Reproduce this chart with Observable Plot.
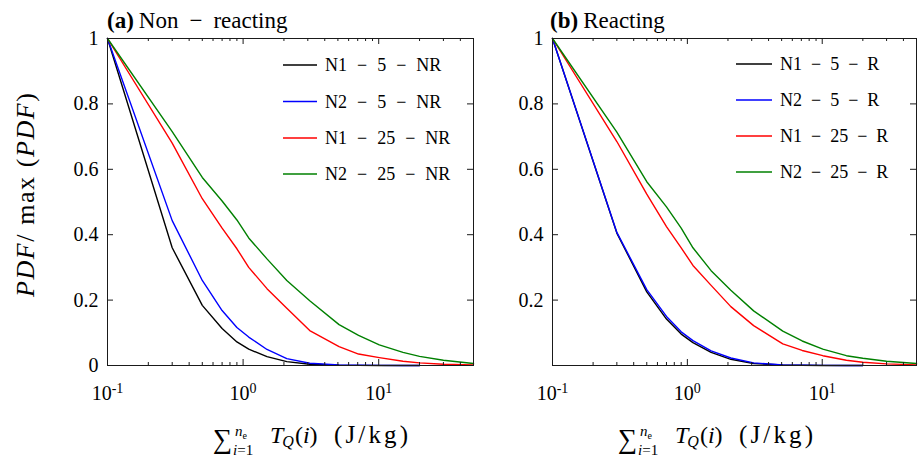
<!DOCTYPE html>
<html><head><meta charset="utf-8">
<script src="https://cdn.jsdelivr.net/npm/d3@7"></script>
<script src="https://cdn.jsdelivr.net/npm/@observablehq/plot@0.6"></script>
<style>
body{margin:0;background:#fff}
#wrap{position:relative;width:918px;height:459px;overflow:hidden;background:#fff}
#wrap svg{position:absolute;top:0}
#wrap svg, #wrap svg text, #wrap svg tspan{font-family:"Liberation Serif", serif !important}
</style></head><body><div id="wrap"></div>
<script>
// ---- data ----
const xShort = [0.1,0.3,0.5,0.7,0.9,1.1,1.5,2.1,3.1,5.1,7.1,10.1,15.1,20];
const xLong  = [0.1,0.3,0.5,0.7,0.9,1.1,1.5,2.1,3.1,5.1,7.1,10.1,15.1,20,30,50];

const namesA = ["N1 − 5 − NR","N2 − 5 − NR","N1 − 25 − NR","N2 − 25 − NR"];
const N1_5_NR  = [1,0.36,0.184,0.113,0.072,0.05,0.027,0.012,0.004,0.001,0.0005,0.0002,0.0001,0];
const N2_5_NR  = [1,0.443,0.26,0.168,0.116,0.087,0.049,0.021,0.007,0.002,0.001,0.0004,0.0002,0.0001];
const N1_25_NR = [1,0.68,0.51,0.42,0.357,0.30,0.235,0.175,0.107,0.058,0.035,0.024,0.013,0.008,0.004,0.002];
const N2_25_NR = [1,0.715,0.575,0.503,0.445,0.39,0.326,0.26,0.198,0.125,0.092,0.063,0.04,0.028,0.016,0.006];

const namesB = ["N1 − 5 − R","N2 − 5 − R","N1 − 25 − R","N2 − 25 − R"];
const N1_5_R  = [1,0.405,0.225,0.142,0.096,0.07,0.04,0.019,0.006,0.0015,0.0006,0.0002,0.0001,0];
const N2_5_R  = [1,0.407,0.232,0.15,0.103,0.076,0.045,0.023,0.008,0.002,0.001,0.0004,0.0002,0.0001];
const N1_25_R = [1,0.685,0.524,0.425,0.36,0.306,0.245,0.18,0.122,0.066,0.046,0.03,0.016,0.01,0.005,0.002];
const N2_25_R = [1,0.714,0.562,0.485,0.42,0.36,0.29,0.23,0.167,0.105,0.075,0.05,0.03,0.022,0.013,0.006];

const colors = ["#000000","#0000ff","#ff0000","#008000"];
const xMajor = [0.1,1,10];
const xMinor = [0.2,0.3,0.4,0.5,0.6,0.7,0.8,0.9,2,3,4,5,6,7,8,9,20,30,40,50];
const yTickMarks = [0,0.2,0.4,0.6,0.8,1];
const yLabelsA = [0,0.2,0.4,0.6,0.8,1];
const yLabelsB = [0.2,0.4,0.6,0.8,1];

const SERIF = "Liberation Serif";
const H = 459, MT = 38, MB = 94;

function makePanel(opt){
  const {width, ml, mr, xsets, ysets, yLabels} = opt;
  const ph = H - MT - MB, pw = width - ml - mr;
  const lines = ysets.map((ys,i) => {
    const xs = xsets[i];
    const rows = ys.map((y,j) => ({x: xs[j], y}));
    return Plot.line(rows, {x:"x", y:"y", stroke: colors[i], strokeWidth: 1.4});
  });
  const svgEl = Plot.plot({
    width, height: H, marginLeft: ml, marginRight: mr, marginTop: MT, marginBottom: MB,
    style: {fontFamily: SERIF, fontSize: "20px", background: "transparent", color: "#000", overflow: "visible"},
    x: {type: "log", domain: [0.1, 50], ticks: xMajor, tickFormat: d => "10^" + Math.round(Math.log10(d)),
        tickSize: 0, tickPadding: 20, label: null},
    y: {domain: [0, 1], ticks: yLabels, tickFormat: d => String(+d.toFixed(1)), tickSize: 0, tickPadding: 9, label: null},
    marks: [
      ...lines,
      Plot.frame({stroke: "#1a1a1a", strokeWidth: 1}),
      Plot.tickX(xMajor, {x: d => d, insetTop: ph - 6, stroke: "#1a1a1a"}),
      Plot.tickX(xMajor, {x: d => d, insetBottom: ph - 6, stroke: "#1a1a1a"}),
      Plot.tickX(xMinor, {x: d => d, insetTop: ph - 3, stroke: "#1a1a1a"}),
      Plot.tickX(xMinor, {x: d => d, insetBottom: ph - 3, stroke: "#1a1a1a"}),
      Plot.tickY(yTickMarks, {y: d => d, insetRight: pw - 6, stroke: "#1a1a1a"}),
      Plot.tickY(yTickMarks, {y: d => d, insetLeft: pw - 6, stroke: "#1a1a1a"})
    ]
  });
  const svg = d3.select(svgEl);
  svg.attr("font-family", SERIF);
  // superscript tick labels
  svg.selectAll("text").each(function(){
    const t = this.textContent;
    if (t.startsWith("10^")) {
      const e = t.slice(3);
      const s = d3.select(this);
      s.text("");
      s.append("tspan").text("10");
      s.append("tspan").attr("dy","-0.5em").attr("font-size","14px").text(e);
    }
  });
  return {svgEl, svg};
}

// text made of parts separated by fixed gaps (math-style spacing around the minus sign)
function partsText(parent, x, y, size, parts, gap){
  const t = parent.append("text").attr("x", x).attr("y", y).attr("text-anchor","start")
    .attr("font-family", SERIF).attr("font-size", size).attr("fill","#000");
  parts.forEach((p,i) => {
    const ts = t.append("tspan").text(p);
    if (i > 0) ts.attr("dx", gap);
  });
  return t;
}

function addTitle(svg, x, bold, parts, gap){
  const t = svg.append("text").attr("x", x).attr("y", 28).attr("text-anchor","start")
    .attr("font-family", SERIF).attr("font-size", "23px").attr("fill","#000");
  t.append("tspan").attr("font-weight","bold").text(bold);
  parts.forEach((p,i) => t.append("tspan").attr("dx", i === 0 ? 5 : gap).text(p));
}

function addLegend(svg, names, x1, x2, tx, ys, gap){
  names.forEach((n,i) => {
    svg.append("line").attr("x1",x1).attr("x2",x2).attr("y1",ys[i]).attr("y2",ys[i])
      .attr("stroke",colors[i]).attr("stroke-width",1.4);
    partsText(svg, tx, ys[i]+6, "18px", n.split(" "), gap);
  });
}

function addXLabel(svg, x0){
  const g = svg.append("g").attr("font-family", SERIF).attr("fill","#000").attr("text-anchor","start");
  g.append("text").attr("x",x0).attr("y",448).attr("font-size","27px").text("∑");
  const sup = g.append("text").attr("x",x0+22).attr("y",436).attr("font-size","15px");
  sup.append("tspan").attr("font-style","italic").text("n");
  sup.append("tspan").attr("font-size","10px").attr("dy",3).text("e");
  const sub = g.append("text").attr("x",x0+20).attr("y",455).attr("font-size","15px");
  sub.append("tspan").attr("font-style","italic").text("i");
  sub.append("tspan").text("=1");
  const m = g.append("text").attr("x",x0+57).attr("y",443).attr("font-size","24px");
  m.append("tspan").attr("font-style","italic").text("T");
  m.append("tspan").attr("font-style","italic").attr("font-size","16px").attr("dy",4).attr("dx",-1).text("Q");
  m.append("tspan").attr("dy",-4).attr("dx",1).text("(");
  m.append("tspan").attr("font-style","italic").text("i");
  m.append("tspan").text(")");
  g.append("text").attr("x",x0+121).attr("y",443).attr("font-size","25px")
    .attr("textLength",74).attr("lengthAdjust","spacing").text("(J/kg)");
}

const wrap = document.getElementById("wrap");

// Panel (a)
const A = makePanel({width: 500, ml: 107, mr: 27,
  xsets: [xShort, xShort, xLong, xLong], ysets: [N1_5_NR, N2_5_NR, N1_25_NR, N2_25_NR], yLabels: yLabelsA});
A.svgEl.style.left = "0px";
addTitle(A.svg, 107, "(a)", ["Non","−","reacting"], 11);
addLegend(A.svg, namesA, 283, 317, 325, [65,101.5,138,174], 10);
addXLabel(A.svg, 213);
const yl = A.svg.append("text").attr("transform","translate(34,195) rotate(-90)").attr("text-anchor","middle")
  .attr("font-family",SERIF).attr("font-size","26px").attr("fill","#000")
  .attr("textLength",204).attr("lengthAdjust","spacing");
yl.append("tspan").attr("font-style","italic").text("PDF");
yl.append("tspan").text("/ max (");
yl.append("tspan").attr("font-style","italic").text("PDF");
yl.append("tspan").text(")");
wrap.appendChild(A.svgEl);

// Panel (b)
const B = makePanel({width: 418, ml: 52, mr: 2,
  xsets: [xShort, xShort, xLong, xLong], ysets: [N1_5_R, N2_5_R, N1_25_R, N2_25_R], yLabels: yLabelsB});
B.svgEl.style.left = "500px";
addTitle(B.svg, 50, "(b)", ["Reacting"], 0);
addLegend(B.svg, namesB, 236, 272, 280, [64,100,136,172], 9);
addXLabel(B.svg, 118);
wrap.appendChild(B.svgEl);
</script>
</body></html>
